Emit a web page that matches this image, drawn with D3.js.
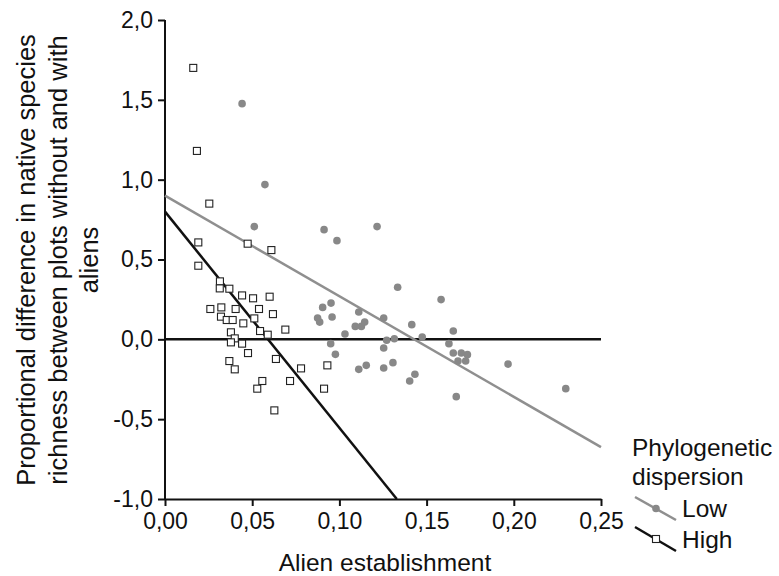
<!DOCTYPE html>
<html>
<head>
<meta charset="utf-8">
<script src="https://cdn.jsdelivr.net/npm/d3@7"></script>
<style>
  body { margin: 0; background: #fff; }
  text { font-family: Arial, "Liberation Sans", sans-serif; fill: #111; }
</style>
</head>
<body>
<div class="chart"></div>
<script>
// low phylogenetic dispersion (grey dots)
const lowX = [0.0442, 0.0573, 0.0512, 0.0912, 0.0986, 0.0904, 0.0952, 0.0958, 0.0875, 0.0887, 0.1032, 0.0950, 0.0977,
  0.1216, 0.1334, 0.1583, 0.1111, 0.1254, 0.1091, 0.1126, 0.1145, 0.1415, 0.1653, 0.1475, 0.1271, 0.1315, 0.1628,
  0.1254, 0.1653, 0.1699, 0.1734, 0.1680, 0.1724, 0.1307, 0.1154, 0.1111, 0.1254, 0.1433, 0.1403, 0.1670, 0.1967, 0.2298]
const lowY = [1.476, 0.969, 0.706, 0.687, 0.618, 0.200, 0.227, 0.140, 0.133, 0.108, 0.033, -0.027, -0.094,
  0.706, 0.326, 0.249, 0.171, 0.134, 0.081, 0.081, 0.108, 0.092, 0.052, 0.015, -0.006, 0.004, -0.027,
  -0.054, -0.086, -0.086, -0.096, -0.136, -0.136, -0.146, -0.163, -0.188, -0.180, -0.219, -0.261, -0.359, -0.155, -0.309]

// high phylogenetic dispersion (open squares)
const highX = [0.0162, 0.0183, 0.0254, 0.0191, 0.0474, 0.0610, 0.0191, 0.0315, 0.0314, 0.0369, 0.0442, 0.0505, 0.0600,
  0.0260, 0.0323, 0.0405, 0.0539, 0.0619, 0.0321, 0.0354, 0.0388, 0.0512, 0.0449, 0.0690, 0.0545, 0.0589, 0.0378,
  0.0400, 0.0378, 0.0442, 0.0476, 0.0369, 0.0400, 0.0636, 0.0780, 0.0931, 0.0558, 0.0529, 0.0717, 0.0912, 0.0627]
const highY = [1.70, 1.18, 0.85, 0.607, 0.599, 0.559, 0.461, 0.363, 0.319, 0.317, 0.275, 0.257, 0.267,
  0.190, 0.200, 0.190, 0.190, 0.158, 0.142, 0.121, 0.121, 0.131, 0.100, 0.061, 0.052, 0.029, 0.044,
  0.006, -0.019, -0.027, -0.086, -0.136, -0.188, -0.123, -0.182, -0.163, -0.261, -0.309, -0.261, -0.309, -0.445]

// fitted lines, end points
const lowFit = [[0, 0.90], [0.25, -0.675]]
const highFit = [[0, 0.80], [0.1329, -1.0]]

const xTicks = [0, 0.05, 0.10, 0.15, 0.20, 0.25]
const yTicks = [-1, -0.5, 0, 0.5, 1, 1.5, 2]

const width = 779, height = 576
const svg = d3.select('.chart').append('svg').attr('width', width).attr('height', height)

const x = d3.scaleLinear().domain([0, 0.25]).range([165, 601])
const y = d3.scaleLinear().domain([-1, 2]).range([499, 20])
const comma = (f) => (d) => d3.format(f)(d).replace('.', ',').replace('\u2212', '-')

// axes
const xAxis = svg.append('g').attr('transform', `translate(0, ${y(-1)})`)
  .call(d3.axisBottom(x).tickValues(xTicks).tickSize(7).tickSizeOuter(0).tickPadding(7).tickFormat(comma('.2f')))
const yAxis = svg.append('g').attr('transform', `translate(${x(0)}, 0)`)
  .call(d3.axisLeft(y).tickValues(yTicks).tickSize(7).tickSizeOuter(0).tickPadding(5).tickFormat(comma('.1f')))
;[xAxis, yAxis].forEach(a => {
  a.select('.domain').attr('stroke', '#111').attr('stroke-width', 2)
  a.selectAll('.tick line').attr('stroke', '#111').attr('stroke-width', 2)
  a.selectAll('.tick text').attr('font-size', 23).attr('fill', '#111')
})
yAxis.select('.domain').attr('d', `M0,${y(2)}V${y(-1)}`)

// zero line
svg.append('line')
  .attr('x1', x(0)).attr('x2', x(0.25)).attr('y1', y(0)).attr('y2', y(0))
  .attr('stroke', '#111').attr('stroke-width', 2.5)

const line = d3.line().x(d => x(d[0])).y(d => y(d[1]))
svg.append('path').attr('d', line(lowFit)).attr('fill', 'none').attr('stroke', '#8f8f8f').attr('stroke-width', 2.5)
svg.append('path').attr('d', line(highFit)).attr('fill', 'none').attr('stroke', '#111').attr('stroke-width', 2.5)

// points
svg.append('g').selectAll('circle')
  .data(lowX.map((v, i) => [v, lowY[i]]))
  .join('circle')
  .attr('cx', d => x(d[0])).attr('cy', d => y(d[1])).attr('r', 3.8)
  .attr('fill', '#888')

const sq = 7
svg.append('g').selectAll('rect')
  .data(highX.map((v, i) => [v, highY[i]]))
  .join('rect')
  .attr('x', d => x(d[0]) - sq / 2).attr('y', d => y(d[1]) - sq / 2)
  .attr('width', sq).attr('height', sq)
  .attr('fill', '#fff').attr('stroke', '#222').attr('stroke-width', 1.1)

// axis titles
svg.append('text').attr('x', 385).attr('y', 571).attr('text-anchor', 'middle')
  .attr('font-size', 24.5).text('Alien establishment')

const yTitle = ['Proportional difference in native species', 'richness between plots without and with', 'aliens']
svg.append('g').attr('transform', 'translate(35, 260) rotate(-90)')
  .selectAll('text').data(yTitle).join('text')
  .attr('x', 0).attr('y', (d, i) => i * 31.5)
  .attr('text-anchor', 'middle').attr('font-size', 25.5).text(d => d)

// legend
const legend = svg.append('g')
legend.append('text').attr('x', 632).attr('y', 456).attr('font-size', 24.5).text('Phylogenetic')
legend.append('text').attr('x', 632).attr('y', 485).attr('font-size', 24.5).text('dispersion')
legend.append('line').attr('x1', 635).attr('y1', 497).attr('x2', 676).attr('y2', 520)
  .attr('stroke', '#8f8f8f').attr('stroke-width', 2.5)
legend.append('circle').attr('cx', 656).attr('cy', 508.5).attr('r', 3.8).attr('fill', '#888')
legend.append('text').attr('x', 682).attr('y', 517).attr('font-size', 24.5).text('Low')
legend.append('line').attr('x1', 635).attr('y1', 527).attr('x2', 676).attr('y2', 551)
  .attr('stroke', '#111').attr('stroke-width', 2.5)
legend.append('rect').attr('x', 656 - sq / 2).attr('y', 539 - sq / 2).attr('width', sq).attr('height', sq)
  .attr('fill', '#fff').attr('stroke', '#222').attr('stroke-width', 1.1)
legend.append('text').attr('x', 682).attr('y', 548).attr('font-size', 24.5).text('High')
</script>
</body>
</html>
